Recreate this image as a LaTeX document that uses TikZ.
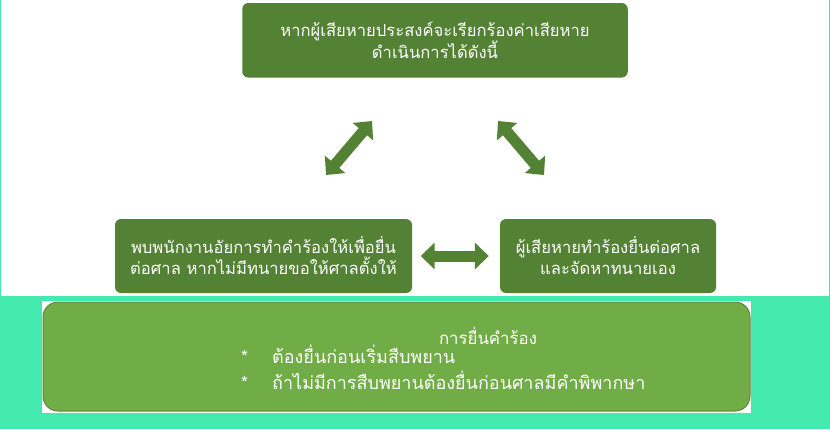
\documentclass[tikz,border=0pt]{standalone}
\usepackage{fontspec}
\newfontfamily\thaifont[Script=Thai]{Loma}
\usetikzlibrary{arrows.meta}
\definecolor{darkgreen}{HTML}{548235}
\definecolor{lightgreen}{HTML}{70AD47}
\definecolor{edgegreen}{HTML}{5B8A3C}
\definecolor{mint}{HTML}{44E9B0}

\begin{document}
\begin{tikzpicture}[x=1pt, y=-1pt,
	box/.style={rectangle, rounded corners=6pt, fill=darkgreen, text=white, align=center, inner sep=0pt, font=\thaifont\fontsize{16.6}{21}\selectfont},
	dblarrow/.style={darkgreen, line width=11pt, {Triangle[length=14pt,width=26pt]}-{Triangle[length=14pt,width=26pt]}},
	bodytext/.style={text=white, inner sep=0pt, font=\thaifont\fontsize{18}{23}\selectfont}]
	\fill[mint] (0,0) rectangle (830,429);
	\fill[white] (1,0) rectangle (829,296);
	\fill[white] (42,301) rectangle (751,413);

	\node[box, minimum width=385.5pt, minimum height=74.5pt] (claim) at (435,40.25) {หากผู้เสียหายประสงค์จะเรียกร้องค่าเสียหาย\\ดำเนินการได้ดังนี้};
	\node[box, minimum width=297pt, minimum height=74pt] (prosecutor) at (263.5,256) {พบพนักงานอัยการทำคำร้องให้เพื่อยื่น\\ต่อศาล หากไม่มีทนายขอให้ศาลตั้งให้};
	\node[box, minimum width=216pt, minimum height=74pt] (victim) at (608,256) {ผู้เสียหายทำร้องยื่นต่อศาล\\และจัดหาทนายเอง};

	\coordinate (pa) at (326,175);
	\coordinate (pb) at (372,121);
	\coordinate (va) at (498,121);
	\coordinate (vb) at (544,175);
	\draw[dblarrow] (pa) -- (pb);
	\draw[dblarrow] (va) -- (vb);
	\draw[dblarrow, shorten <=8.5pt, shorten >=11pt] (prosecutor) -- (victim);

	\node[rectangle, rounded corners=15pt, fill=lightgreen, draw=edgegreen, line width=1pt, minimum width=707pt, minimum height=109pt] (filing) at (396.5,356.5) {};
	\node[bodytext, font=\thaifont\fontsize{16.8}{23}\selectfont] (title) at (488,336) {การยื่นคำร้อง};
	\node[bodytext, anchor=west] (rules) at (241,370.5) {\begin{tabular}{@{}p{31pt}@{}l@{}}
		{*} & ต้องยื่นก่อนเริ่มสืบพยาน\\
		{*} & ถ้าไม่มีการสืบพยานต้องยื่นก่อนศาลมีคำพิพากษา
	\end{tabular}};
\end{tikzpicture}
\end{document}
